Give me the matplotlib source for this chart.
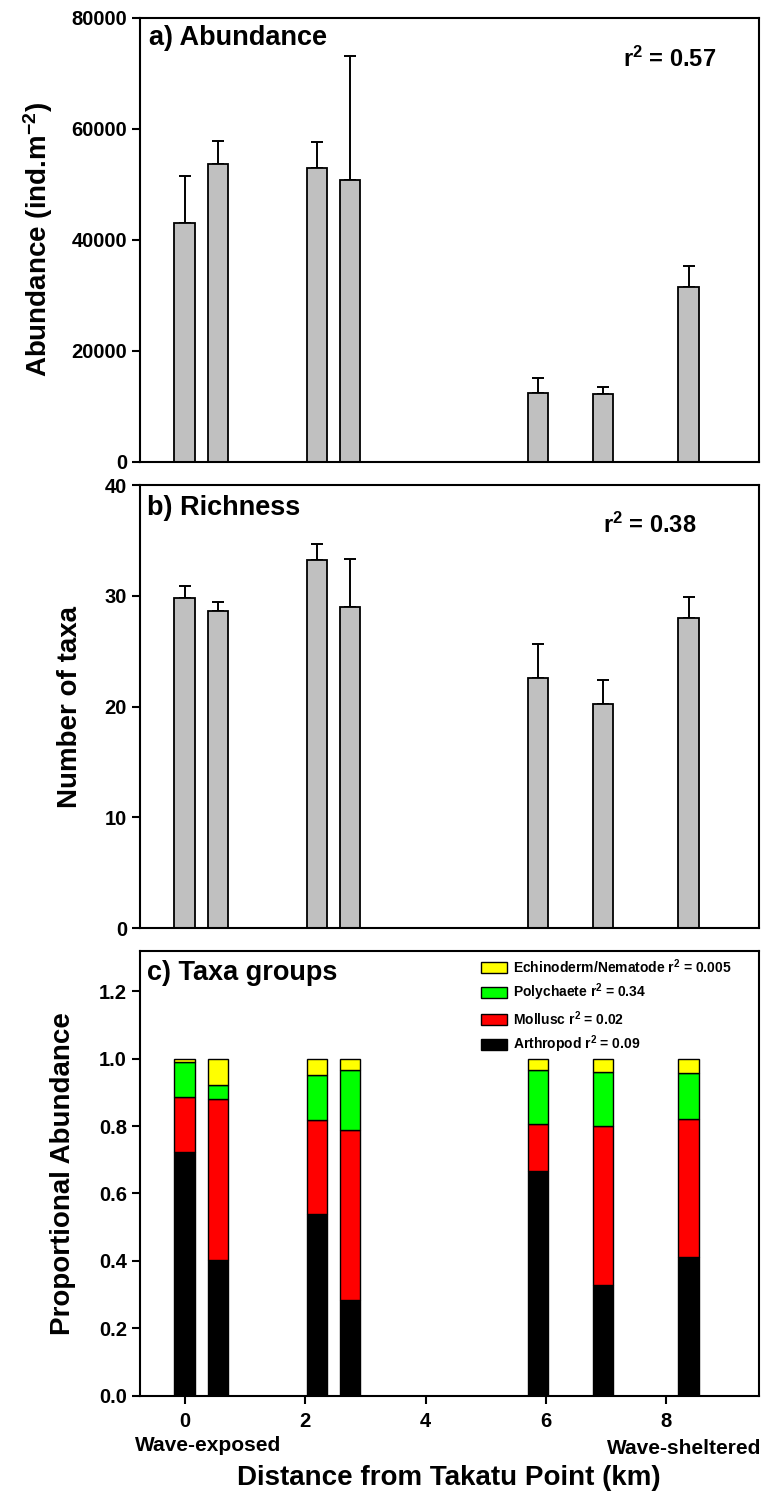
import matplotlib
matplotlib.use("Agg")
import matplotlib.pyplot as plt
from matplotlib.patches import Patch
import numpy as np

plt.rcParams['font.family'] = ['Liberation Sans', 'DejaVu Sans']
plt.rcParams['font.weight'] = 'bold'
plt.rcParams['mathtext.fontset'] = 'custom'
plt.rcParams['mathtext.rm'] = 'Liberation Sans:bold'
plt.rcParams['mathtext.it'] = 'Liberation Sans:bold'
plt.rcParams['mathtext.bf'] = 'Liberation Sans:bold'
plt.rcParams['axes.unicode_minus'] = True

# Site positions along the coast (km from Takatu Point)
distance_km = [0.0, 0.55, 2.2, 2.75, 5.87, 6.95, 8.37]

# a) Abundance (ind. m^-2): mean and upper SE
abundance = [43000, 53600, 52900, 50700, 12300, 12200, 31500]
abundance_se = [8500, 4100, 4700, 22400, 2750, 1300, 3850]

# b) Richness (number of taxa): mean and upper SE
richness = [29.8, 28.6, 33.2, 29.0, 22.6, 20.2, 28.0]
richness_se = [1.1, 0.8, 1.5, 4.3, 3.0, 2.2, 1.9]

# c) Proportional abundance of taxa groups
arthropod = [0.722, 0.401, 0.540, 0.284, 0.667, 0.327, 0.411]
mollusc = [0.165, 0.480, 0.279, 0.503, 0.138, 0.474, 0.410]
polychaete = [0.103, 0.041, 0.134, 0.181, 0.163, 0.159, 0.138]
echino_nematode = [0.010, 0.078, 0.047, 0.032, 0.032, 0.040, 0.041]

group_labels = ['Arthropod r$^2$ = 0.09', 'Mollusc r$^2$ = 0.02',
                'Polychaete r$^2$ = 0.34', 'Echinoderm/Nematode r$^2$ = 0.005']
group_colors = ['#000000', '#ff0000', '#00ff00', '#ffff00']

W, H = 761, 1497
fig = plt.figure(figsize=(W / 100, H / 100), dpi=100)

left_px, right_px = 139.5, 758.5
def axes_rect(top_px, bottom_px):
    return [left_px / W, 1 - bottom_px / H, (right_px - left_px) / W, (bottom_px - top_px) / H]

ax_a = fig.add_axes(axes_rect(17.7, 461.7))
ax_b = fig.add_axes(axes_rect(485.0, 928.0))
ax_c = fig.add_axes(axes_rect(951.0, 1395.5))

bar_w = 0.34
xlim = (-0.75, 9.53)
tick_fs = 14.5
label_fs = 20
title_fs = 19.5

def style_axes(ax):
    for s in ax.spines.values():
        s.set_linewidth(1.5)
        s.set_color('black')
    ax.set_xlim(*xlim)
    ax.tick_params(axis='y', direction='out', length=6, width=1.5, labelsize=tick_fs, pad=3)
    for lab in ax.get_yticklabels():
        lab.set_fontweight('bold')

# Panel a
ax_a.bar(distance_km, abundance, width=bar_w, color='#c0c0c0', edgecolor='black', linewidth=1.3, zorder=2)
ax_a.errorbar(distance_km, abundance, yerr=[np.zeros(len(abundance)), abundance_se], fmt='none',
              ecolor='black', elinewidth=1.4, capsize=4.5, capthick=1.4, zorder=1)
ax_a.set_ylim(0, 80000)
ax_a.set_yticks([0, 20000, 40000, 60000, 80000])
ax_a.set_xticks([])
style_axes(ax_a)
ax_a.set_ylabel('Abundance (ind.m$^{-2}$)', fontsize=label_fs, fontweight='bold')
ax_a.yaxis.set_label_coords(-0.137, 0.5)
ax_a.text(0.0153, 0.9385, 'a) Abundance', transform=ax_a.transAxes, fontsize=title_fs,
          fontweight='bold', ha='left', va='baseline')
ax_a.text(0.931, 0.889, 'r$^2$ = 0.57', transform=ax_a.transAxes, fontsize=17,
          fontweight='bold', ha='right', va='baseline')

# Panel b
ax_b.bar(distance_km, richness, width=bar_w, color='#c0c0c0', edgecolor='black', linewidth=1.3, zorder=2)
ax_b.errorbar(distance_km, richness, yerr=[np.zeros(len(richness)), richness_se], fmt='none',
              ecolor='black', elinewidth=1.4, capsize=4.5, capthick=1.4, zorder=1)
ax_b.set_ylim(0, 40)
ax_b.set_yticks([0, 10, 20, 30, 40])
ax_b.set_xticks([])
style_axes(ax_b)
ax_b.set_ylabel('Number of taxa', fontsize=label_fs, fontweight='bold')
ax_b.yaxis.set_label_coords(-0.091, 0.5)
ax_b.text(0.012, 0.932, 'b) Richness', transform=ax_b.transAxes, fontsize=title_fs,
          fontweight='bold', ha='left', va='baseline')
ax_b.text(0.899, 0.892, 'r$^2$ = 0.38', transform=ax_b.transAxes, fontsize=17,
          fontweight='bold', ha='right', va='baseline')

# Panel c: stacked proportions
stack = [arthropod, mollusc, polychaete, echino_nematode]
bottom = np.zeros(len(distance_km))
handles = []
for vals, col, lab in zip(stack, group_colors, group_labels):
    ax_c.bar(distance_km, vals, width=bar_w, bottom=bottom, color=col, edgecolor='black',
             linewidth=1.0, zorder=2)
    bottom = bottom + np.array(vals)
    handles.append(Patch(facecolor=col, edgecolor='black', linewidth=1.0, label=lab))
ax_c.set_ylim(0, 1.32)
ax_c.set_yticks([0.0, 0.2, 0.4, 0.6, 0.8, 1.0, 1.2])
ax_c.set_yticklabels(['0.0', '0.2', '0.4', '0.6', '0.8', '1.0', '1.2'])
ax_c.set_xticks([0, 2, 4, 6, 8])
style_axes(ax_c)
ax_c.tick_params(axis='x', direction='out', length=6, width=1.5, labelsize=tick_fs, pad=6)
for lab in ax_c.get_xticklabels() + ax_c.get_yticklabels():
    lab.set_fontweight('bold')
ax_c.set_ylabel('Proportional Abundance', fontsize=label_fs, fontweight='bold')
ax_c.yaxis.set_label_coords(-0.103, 0.5)
ax_c.text(0.012, 0.934, 'c) Taxa groups', transform=ax_c.transAxes, fontsize=title_fs,
          fontweight='bold', ha='left', va='baseline')
leg = ax_c.legend(handles=handles[::-1], loc='upper left', bbox_to_anchor=(0.538, 1.005),
                  frameon=False, fontsize=10, handlelength=1.9, handleheight=0.85,
                  handletextpad=0.45, labelspacing=0.42, borderaxespad=0.3, borderpad=0.3)
for t in leg.get_texts():
    t.set_fontweight('bold')

fig.text(208 / W, 1 - 1445.7 / H, 'Wave-exposed', fontsize=15, fontweight='bold',
         ha='center', va='center')
fig.text(684.5 / W, 1 - 1448.5 / H, 'Wave-sheltered', fontsize=15, fontweight='bold',
         ha='center', va='center')
fig.text(449 / W, 1 - 1478 / H, 'Distance from Takatu Point (km)', fontsize=20,
         fontweight='bold', ha='center', va='center')

fig.savefig('out.png', dpi=100)
